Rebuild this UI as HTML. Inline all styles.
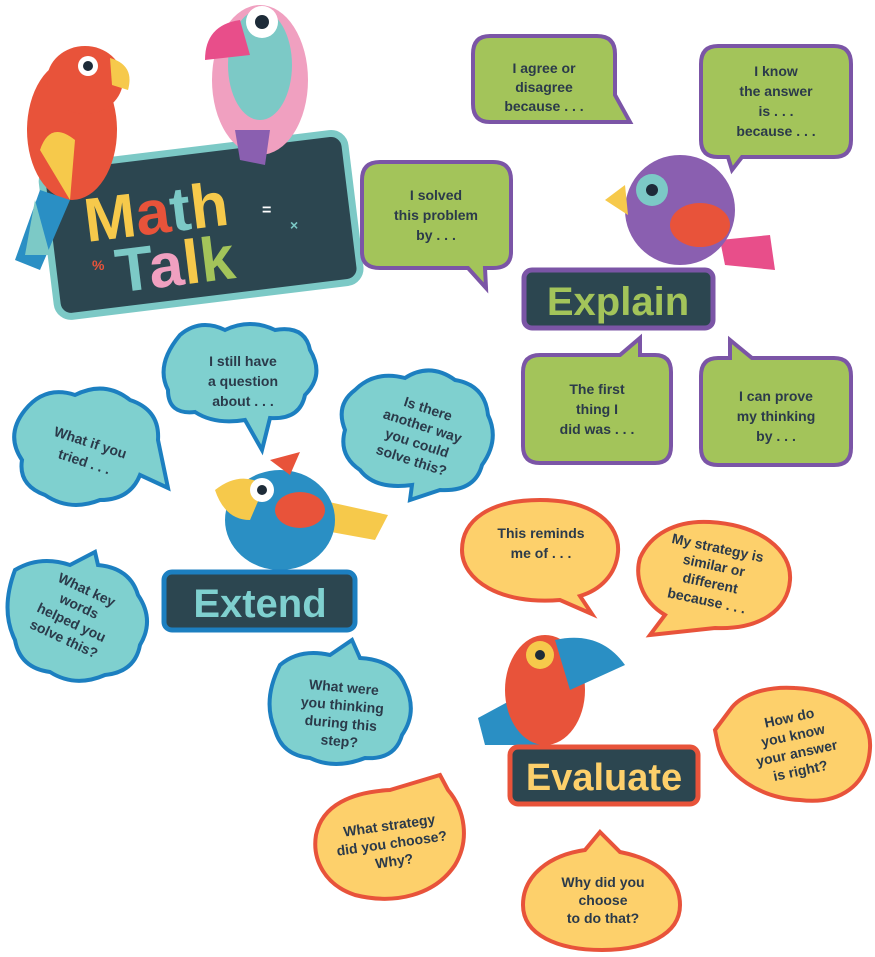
<!DOCTYPE html>
<html><head><meta charset="utf-8"><style>
html,body{margin:0;padding:0;background:#fff;}
svg{display:block;}
text{font-family:"Liberation Sans",sans-serif;font-weight:bold;}
.g{fill:#2b3a4a;font-size:14px;text-anchor:middle;}
</style></head><body>
<svg width="875" height="957" viewBox="0 0 875 957" xmlns="http://www.w3.org/2000/svg">
<!-- Math Talk sign -->
<g transform="rotate(-7 200 220)">
<rect x="48" y="150" width="305" height="150" rx="14" fill="#2c4650" stroke="#7cc9c6" stroke-width="7"/>
</g>
<text x="85" y="228" font-size="62" font-family="Liberation Sans" font-weight="bold" transform="rotate(-7 200 220)"><tspan fill="#f6c94b">M</tspan><tspan fill="#e8533a">a</tspan><tspan fill="#7cc9c6">t</tspan><tspan fill="#f6c94b">h</tspan></text>
<text x="110" y="282" font-size="62" transform="rotate(-7 200 220)"><tspan fill="#7cc9c6">T</tspan><tspan fill="#f0a0c0">a</tspan><tspan fill="#f6c94b">l</tspan><tspan fill="#a3c45a">k</tspan></text>
<text x="262" y="215" font-size="16" fill="#fff">=</text>
<text x="290" y="230" font-size="14" fill="#7cc9c6">×</text>
<text x="92" y="270" font-size="14" fill="#e8533a">%</text>
<!-- left parrot -->
<ellipse cx="72" cy="130" rx="45" ry="70" fill="#e8533a"/>
<ellipse cx="85" cy="80" rx="38" ry="34" fill="#e8533a"/>
<path d="M110 58 Q135 65 128 90 L112 85Z" fill="#f6c94b"/>
<circle cx="88" cy="66" r="10" fill="#fff"/><circle cx="88" cy="66" r="5" fill="#1d2b38"/>
<path d="M40 150 Q50 120 75 140 L70 200Z" fill="#f6c94b"/>
<path d="M40 190 L15 260 L40 270 L70 200Z" fill="#2a8fc4"/>
<path d="M35 200 L25 255 L50 255Z" fill="#7cc9c6"/>
<!-- toucan -->
<ellipse cx="260" cy="80" rx="48" ry="75" fill="#f0a0c0"/>
<ellipse cx="260" cy="65" rx="32" ry="55" fill="#7cc9c6"/>
<path d="M205 60 Q205 25 240 20 L250 55Z" fill="#e84e8a"/>
<circle cx="262" cy="22" r="16" fill="#fff"/><circle cx="262" cy="22" r="7" fill="#1d2b38"/>
<path d="M235 130 L270 130 L265 165 L240 160Z" fill="#8a5fb0"/>
<!-- green bubbles -->
<g fill="#a3c45a" stroke="#7b55a6" stroke-width="4">
<path d="M490 36 H597 Q615 36 615 54 V95 L630 122 L608 122 H490 Q473 122 473 104 V54 Q473 36 490 36Z"/>
<path d="M718 46 H834 Q851 46 851 64 V140 Q851 157 834 157 H742 L732 170 L728 157 H718 Q701 157 701 140 V64 Q701 46 718 46Z"/>
<path d="M380 162 H493 Q511 162 511 180 V252 Q511 268 493 268 H485 L486 288 L468 268 H380 Q362 268 362 252 V180 Q362 162 380 162Z"/>
<path d="M540 355 H620 L640 338 L640 355 H655 Q671 355 671 372 V446 Q671 463 655 463 H540 Q523 463 523 446 V372 Q523 355 540 355Z"/>
<path d="M718 358 H730 L730 340 L752 358 H834 Q851 358 851 376 V448 Q851 465 834 465 H718 Q701 465 701 448 V376 Q701 358 718 358Z"/>
</g>
<text class="g"><tspan x="544" y="73">I agree or</tspan><tspan x="544" y="92">disagree</tspan><tspan x="544" y="111">because . . .</tspan></text>
<text class="g"><tspan x="776" y="76">I know</tspan><tspan x="776" y="96">the answer</tspan><tspan x="776" y="116">is . . .</tspan><tspan x="776" y="136">because . . .</tspan></text>
<text class="g"><tspan x="436" y="200">I solved</tspan><tspan x="436" y="220">this problem</tspan><tspan x="436" y="240">by . . .</tspan></text>
<text class="g"><tspan x="597" y="394">The first</tspan><tspan x="597" y="414">thing I</tspan><tspan x="597" y="434">did was . . .</tspan></text>
<text class="g"><tspan x="776" y="401">I can prove</tspan><tspan x="776" y="421">my thinking</tspan><tspan x="776" y="441">by . . .</tspan></text>
<!-- purple bird -->
<path d="M720 240 L770 235 L775 270 L725 265Z" fill="#e84e8a"/>
<ellipse cx="680" cy="210" rx="55" ry="55" fill="#8a5fb0"/>
<ellipse cx="700" cy="225" rx="30" ry="22" fill="#e8533a"/>
<path d="M625 185 L605 200 L628 215Z" fill="#f6c94b"/>
<circle cx="652" cy="190" r="16" fill="#7cc9c6"/><circle cx="652" cy="190" r="6" fill="#1d2b38"/>
<!-- Explain label -->
<rect x="524" y="270" width="189" height="58" rx="8" fill="#2c4650" stroke="#7b55a6" stroke-width="5"/>
<text x="618" y="315" font-size="40" fill="#a3c45a" text-anchor="middle">Explain</text>
<!-- blue clouds -->
<g fill="#7fd0cf" stroke="#1c7fc0" stroke-width="4">
<path d="M180 335 Q200 318 225 330 Q250 318 275 330 Q305 325 310 350 Q325 375 305 395 Q300 420 270 418 L262 450 L245 420 Q215 425 195 412 Q168 415 168 390 Q155 365 180 335Z"/>
<path d="M25 410 Q45 385 75 395 Q105 380 130 400 Q160 410 158 440 L168 488 L140 475 Q130 500 100 500 Q70 512 45 495 Q18 485 22 460 Q5 435 25 410Z"/>
<path d="M355 390 Q375 370 405 378 Q430 362 455 380 Q485 385 488 415 Q500 440 482 465 Q475 492 440 490 L410 500 L412 485 Q375 490 360 470 Q338 455 345 430 Q335 405 355 390Z"/>
<path d="M15 570 Q40 555 70 565 L95 552 L98 565 Q130 568 138 595 Q155 620 140 645 Q135 672 105 675 Q75 688 50 672 Q20 668 15 640 Q0 610 15 570Z"/>
<path d="M280 665 Q300 648 330 655 L352 640 L360 658 Q395 660 405 685 Q418 712 402 735 Q395 760 365 758 Q335 770 310 758 Q282 755 275 730 Q262 700 280 665Z"/>
</g>
<text class="g"><tspan x="243" y="366">I still have</tspan><tspan x="243" y="386">a question</tspan><tspan x="243" y="406">about . . .</tspan></text>
<text class="g" transform="rotate(18 88 450)"><tspan x="88" y="447">What if you</tspan><tspan x="88" y="467">tried . . .</tspan></text>
<text class="g" transform="rotate(18 418 440)"><tspan x="418" y="412">Is there</tspan><tspan x="418" y="430">another way</tspan><tspan x="418" y="448">you could</tspan><tspan x="418" y="466">solve this?</tspan></text>
<text class="g" transform="rotate(25 75 615)"><tspan x="75" y="592">What key</tspan><tspan x="75" y="610">words</tspan><tspan x="75" y="628">helped you</tspan><tspan x="75" y="646">solve this?</tspan></text>
<text class="g" transform="rotate(5 342 710)"><tspan x="342" y="692">What were</tspan><tspan x="342" y="710">you thinking</tspan><tspan x="342" y="728">during this</tspan><tspan x="342" y="746">step?</tspan></text>
<!-- extend bird -->
<path d="M320 500 L388 515 L375 540 L320 530Z" fill="#f6c94b"/>
<ellipse cx="280" cy="520" rx="55" ry="50" fill="#2a8fc4"/>
<ellipse cx="300" cy="510" rx="25" ry="18" fill="#e8533a"/>
<path d="M215 490 Q240 470 265 485 L250 520 Q225 520 215 490Z" fill="#f6c94b"/>
<circle cx="262" cy="490" r="12" fill="#fff"/><circle cx="262" cy="490" r="5" fill="#1d2b38"/>
<path d="M270 460 L300 452 L290 475Z" fill="#e8533a"/>
<!-- Extend label -->
<rect x="164" y="572" width="191" height="58" rx="8" fill="#2c4650" stroke="#1c7fc0" stroke-width="5"/>
<text x="260" y="617" font-size="40" fill="#7fd0cf" text-anchor="middle">Extend</text>
<!-- orange bubbles -->
<g fill="#fdd06b" stroke="#e8533a" stroke-width="4">
<path d="M540 500 C595 500 620 525 618 552 C616 575 600 590 580 596 L592 614 L560 600 C500 605 462 580 462 550 C462 520 490 500 540 500Z"/>
<path d="M710 522 C760 525 792 550 790 580 C788 610 760 630 715 628 L650 635 L665 615 C640 600 635 575 640 558 C650 535 675 520 710 522Z"/>
<path d="M795 688 C840 690 872 715 870 748 C868 785 840 805 800 800 C760 798 725 775 718 745 L715 730 L730 710 C740 695 765 686 795 688Z"/>
<path d="M390 790 L440 775 L448 790 C465 810 470 840 455 865 C435 895 395 905 355 895 C325 885 312 860 316 835 C322 805 352 792 390 790Z"/>
<path d="M600 832 L620 852 C660 860 680 880 680 905 C680 935 645 950 602 950 C558 950 523 935 523 905 C523 875 550 855 585 850Z"/>
</g>
<text class="g"><tspan x="541" y="538">This reminds</tspan><tspan x="541" y="558">me of . . .</tspan></text>
<text class="g" transform="rotate(12 712 575)"><tspan x="712" y="552">My strategy is</tspan><tspan x="712" y="570">similar or</tspan><tspan x="712" y="588">different</tspan><tspan x="712" y="606">because . . .</tspan></text>
<text class="g" transform="rotate(-12 795 745)"><tspan x="795" y="722">How do</tspan><tspan x="795" y="740">you know</tspan><tspan x="795" y="758">your answer</tspan><tspan x="795" y="776">is right?</tspan></text>
<text class="g" transform="rotate(-8 392 845)"><tspan x="392" y="830">What strategy</tspan><tspan x="392" y="848">did you choose?</tspan><tspan x="392" y="866">Why?</tspan></text>
<text class="g"><tspan x="603" y="887">Why did you</tspan><tspan x="603" y="905">choose</tspan><tspan x="603" y="923">to do that?</tspan></text>
<!-- evaluate bird -->
<path d="M478 718 L530 690 L545 745 L485 745Z" fill="#2a8fc4"/>
<ellipse cx="545" cy="690" rx="40" ry="55" fill="#e8533a"/>
<path d="M555 640 Q600 630 625 665 L570 690Z" fill="#2a8fc4"/>
<circle cx="540" cy="655" r="14" fill="#f6c94b"/><circle cx="540" cy="655" r="5" fill="#1d2b38"/>
<!-- Evaluate label -->
<rect x="510" y="747" width="188" height="57" rx="8" fill="#2c4650" stroke="#e8533a" stroke-width="5"/>
<text x="604" y="790" font-size="38" fill="#fdd06b" text-anchor="middle">Evaluate</text>
</svg>
</body></html>
